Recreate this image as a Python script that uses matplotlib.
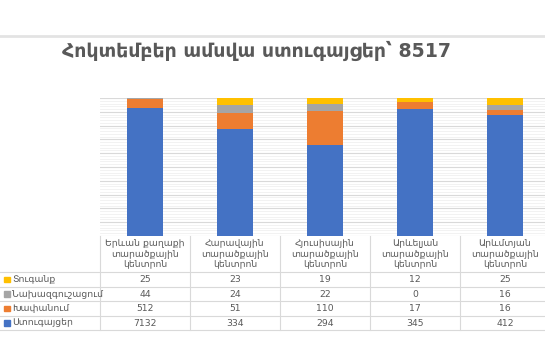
import numpy as np
import matplotlib
matplotlib.use("Agg")
import matplotlib.pyplot as plt
from matplotlib.patches import Rectangle

plt.rcParams['font.family'] = ['DejaVu Sans']

# data
centers = ["Երևան քաղաքի\nտարածքային\nկենտրոն",
           "Հարավային\nտարածքային\nկենտրոն",
           "Հյուսիսային\nտարածքային\nկենտրոն",
           "Արևելյան\nտարածքային\nկենտրոն",
           "Արևմտյան\nտարածքային\nկենտրոն"]
series_names = ["Ստուգայցեր", "Խափանում", "Նախազգուշացում", "Տուգանք"]
inspections = [7132, 334, 294, 345, 412]
violations = [512, 51, 110, 17, 16]
warnings = [44, 24, 22, 0, 16]
fines = [25, 23, 19, 12, 25]
colors = ["#4472C4", "#ED7D31", "#A5A5A5", "#FFC000"]
title = "Հոկտեմբեր ամսվա ստուգայցեր՝ 8517"

W, H = 545, 361
fig = plt.figure(figsize=(W / 100, H / 100), dpi=100)

def fx(px):
    return px / W

def fy(py):
    return 1 - py / H

# top separator line and title
fig.add_artist(plt.Line2D([0, 1], [fy(35.5), fy(35.5)], color="#e3e3e3", lw=2))
fig.text(fx(257), fy(51), title, ha="center", va="center", fontsize=13.6,
         fontweight="bold", color="#595959")

# plot area
left, right, top, bottom = 100, 550, 98, 236
ax = fig.add_axes([fx(left), fy(bottom), fx(right - left), (bottom - top) / H])
data = np.array([inspections, violations, warnings, fines], dtype=float)
pct = data / data.sum(axis=0) * 100
x = np.arange(len(centers))
base = np.zeros(len(centers))
for vals, c in zip(pct, colors):
    ax.bar(x, vals, bottom=base, width=0.39, color=c, zorder=3)
    base += vals
ax.set_xlim(-0.5, len(centers) - 0.5)
ax.set_ylim(0, 100)
ax.set_yticks(np.arange(0, 101, 10))
ax.set_yticks(np.arange(0, 101, 2), minor=True)
ax.grid(axis="y", which="major", color="#d9d9d9", lw=0.8, zorder=0)
ax.grid(axis="y", which="minor", color="#f0f0f0", lw=0.6, zorder=0)
ax.tick_params(which="both", left=False, bottom=False, labelleft=False, labelbottom=False)
for s in ax.spines.values():
    s.set_visible(False)

# data table
col_w = (right - left) / len(centers)
row_h = 14.5
head_bot = 272.3
line_c = "#d9d9d9"
txt_c = "#595959"
fs = 6.7
rows_y = [head_bot + i * row_h for i in range(5)]
tab_bot = rows_y[-1]
for yy in rows_y:
    fig.add_artist(plt.Line2D([0, fx(right)], [fy(yy), fy(yy)], color=line_c, lw=0.8))
for i in range(len(centers) + 1):
    xx = left + i * col_w
    fig.add_artist(plt.Line2D([fx(xx), fx(xx)], [fy(bottom), fy(tab_bot)], color=line_c, lw=0.8))

for i, name in enumerate(centers):
    fig.text(fx(left + (i + 0.5) * col_w), fy((bottom + head_bot) / 2), name,
             ha="center", va="center", fontsize=fs, color=txt_c, linespacing=1.25)

table_rows = list(zip(series_names, colors, [inspections, violations, warnings, fines]))[::-1]
for r, (name, c, vals) in enumerate(table_rows):
    yc = head_bot + (r + 0.5) * row_h
    sq = 5.5
    fig.add_artist(Rectangle((fx(4), fy(yc + sq / 2)), fx(sq), sq / H, color=c))
    fig.text(fx(12), fy(yc), name, ha="left", va="center", fontsize=fs, color=txt_c)
    for i, v in enumerate(vals):
        fig.text(fx(left + (i + 0.5) * col_w), fy(yc), str(v), ha="center",
                 va="center", fontsize=fs, color=txt_c)

fig.savefig("out.png", dpi=100)
